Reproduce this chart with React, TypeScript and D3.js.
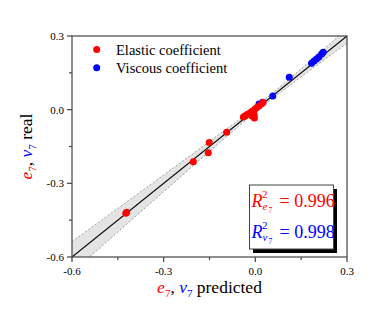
import * as d3 from "d3";

const W = 389;
const H = 309;
const M = { left: 72, right: 42, top: 36, bottom: 52 };

// axis
const majorTicks = [-0.6, -0.3, 0.0, 0.3];
const minorTicks = [-0.45, -0.15, 0.15];

// elastic coefficient e7 (predicted, real)
const elasticPred = [-0.424, -0.421, -0.203, -0.154, -0.151, -0.094, -0.039, -0.034, -0.027, -0.021, -0.014, -0.008, -0.001, 0.005, 0.012, 0.021, 0.025, -0.003, -0.004, -0.011];
const elasticReal = [-0.422, -0.418, -0.212, -0.175, -0.134, -0.092, -0.030, -0.026, -0.020, -0.016, -0.009, -0.005, 0.003, 0.009, 0.015, 0.024, 0.029, -0.034, -0.020, -0.026];

// viscous coefficient v7 (predicted, real)
const viscousPred = [0.012, 0.024, 0.057, 0.111, 0.184, 0.192, 0.200, 0.208, 0.217, 0.222];
const viscousReal = [0.023, 0.030, 0.056, 0.132, 0.189, 0.198, 0.206, 0.214, 0.227, 0.234];

// confidence band half width around the fit
const bandX = [-0.6, -0.45, -0.3, -0.15, 0.0, 0.15, 0.3];
const bandHalf = [0.063, 0.048, 0.034, 0.02, 0.0102, 0.0164, 0.03];

const R2e = "0.996";
const R2v = "0.998";

const RED = "#ff0000";
const BLUE = "#0000ff";
const FONT = "Liberation Serif, Times New Roman, Times, serif";

export default function App() {
  const x = d3.scaleLinear().domain([-0.6, 0.3]).range([M.left, W - M.right]);
  const y = d3.scaleLinear().domain([-0.6, 0.3]).range([H - M.bottom, M.top]);

  const bandPts = bandX.map((v, i) => ({ x: v, lo: v - bandHalf[i], hi: v + bandHalf[i] }));
  const area = d3
    .area<{ x: number; lo: number; hi: number }>()
    .x((d) => x(d.x))
    .y0((d) => y(d.lo))
    .y1((d) => y(d.hi))
    .curve(d3.curveMonotoneX);
  const upper = d3
    .line<{ x: number; lo: number; hi: number }>()
    .x((d) => x(d.x))
    .y((d) => y(d.hi))
    .curve(d3.curveMonotoneX);
  const lower = d3
    .line<{ x: number; lo: number; hi: number }>()
    .x((d) => x(d.x))
    .y((d) => y(d.lo))
    .curve(d3.curveMonotoneX);

  const [x0, x1] = x.range();
  const [y0, y1] = y.range();
  const d0 = x.domain();

  return (
    <svg width={W} height={H} style={{ position: "absolute", left: 0, top: 0 }} fontFamily={FONT}>
      <defs>
        <clipPath id="plot">
          <rect x={x0} y={y1} width={x1 - x0} height={y0 - y1} />
        </clipPath>
      </defs>
      <rect width={W} height={H} fill="#fff" />

      <g clipPath="url(#plot)">
        <path d={area(bandPts) || ""} fill="#e4e4e4" />
        <path d={upper(bandPts) || ""} fill="none" stroke="#888" strokeWidth={0.8} strokeDasharray="2,2" />
        <path d={lower(bandPts) || ""} fill="none" stroke="#888" strokeWidth={0.8} strokeDasharray="2,2" />
        <line x1={x(d0[0])} y1={y(d0[0])} x2={x(d0[1])} y2={y(d0[1])} stroke="#000" strokeWidth={1.1} />
        {viscousPred.map((v, i) => (
          <circle key={"v" + i} cx={x(v)} cy={y(viscousReal[i])} r={3.5} fill={BLUE} />
        ))}
        {elasticPred.map((v, i) => (
          <circle key={"e" + i} cx={x(v)} cy={y(elasticReal[i])} r={3.5} fill={RED} />
        ))}
      </g>

      {/* frame */}
      <rect x={x0} y={y1} width={x1 - x0} height={y0 - y1} fill="none" stroke="#444" strokeWidth={1.2} />

      {/* ticks */}
      {majorTicks.map((t) => (
        <g key={"t" + t}>
          <line x1={x(t)} x2={x(t)} y1={y0} y2={y0 + 5} stroke="#444" strokeWidth={1.2} />
          <text x={x(t)} y={y0 + 18} fontSize={11} textAnchor="middle" fill="#000">
            {t.toFixed(1)}
          </text>
          <line x1={x0} x2={x0 - 5} y1={y(t)} y2={y(t)} stroke="#444" strokeWidth={1.2} />
          <text x={x0 - 8} y={y(t) + 4} fontSize={11} textAnchor="end" fill="#000">
            {t.toFixed(1)}
          </text>
        </g>
      ))}
      {minorTicks.map((t) => (
        <g key={"m" + t}>
          <line x1={x(t)} x2={x(t)} y1={y0} y2={y0 + 3} stroke="#444" strokeWidth={1.2} />
          <line x1={x0} x2={x0 - 3} y1={y(t)} y2={y(t)} stroke="#444" strokeWidth={1.2} />
        </g>
      ))}

      {/* legend */}
      <circle cx={96.7} cy={49.5} r={3.5} fill={RED} />
      <text x={116} y={55} fontSize={14.5} fill="#000">Elastic coefficient</text>
      <circle cx={96.7} cy={67.7} r={3.5} fill={BLUE} />
      <text x={116} y={73.3} fontSize={14.5} fill="#000">Viscous coefficient</text>

      {/* x title */}
      <text x={(x0 + x1) / 2} y={293} fontSize={17.5} textAnchor="middle" fill="#000">
        <tspan fill={RED} fontStyle="italic">e</tspan>
        <tspan fill={RED} fontSize={11} dy={4}>7</tspan>
        <tspan dy={-4}>, </tspan>
        <tspan fill={BLUE} fontStyle="italic">v</tspan>
        <tspan fill={BLUE} fontSize={11} dy={4}>7</tspan>
        <tspan dy={-4}> predicted</tspan>
      </text>

      {/* y title */}
      <text
        transform={`translate(32,${(y0 + y1) / 2}) rotate(-90)`}
        fontSize={17.5}
        textAnchor="middle"
        fill="#000"
      >
        <tspan fill={RED} fontStyle="italic">e</tspan>
        <tspan fill={RED} fontSize={11} dy={4}>7</tspan>
        <tspan dy={-4}>, </tspan>
        <tspan fill={BLUE} fontStyle="italic">v</tspan>
        <tspan fill={BLUE} fontSize={11} dy={4}>7</tspan>
        <tspan dy={-4}> real</tspan>
      </text>

      {/* R2 box */}
      <rect x={253} y={189} width={84} height={64} fill="#000" />
      <rect x={249.5} y={185} width={84} height={64} fill="#fff" stroke="#444" strokeWidth={1} />
      <g fill={RED}>
        <text x={251.5} y={206.5} fontSize={18} fontStyle="italic">R</text>
        <text x={262} y={198} fontSize={11}>2</text>
        <text x={262.5} y={210} fontSize={11} fontStyle="italic">e</text>
        <text x={268.5} y={212.5} fontSize={7.5}>7</text>
        <text x={279.5} y={206.5} fontSize={18}>= {R2e}</text>
      </g>
      <g fill={BLUE}>
        <text x={251.5} y={237.5} fontSize={18} fontStyle="italic">R</text>
        <text x={262} y={229} fontSize={11}>2</text>
        <text x={262.5} y={241} fontSize={11} fontStyle="italic">v</text>
        <text x={268.5} y={243.5} fontSize={7.5}>7</text>
        <text x={279.5} y={237.5} fontSize={18}>= {R2v}</text>
      </g>
    </svg>
  );
}
